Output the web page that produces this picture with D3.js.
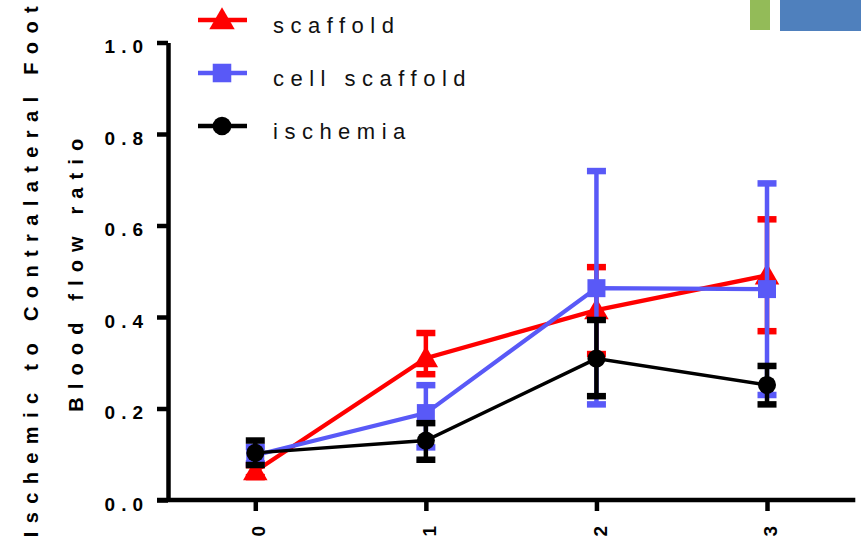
<!DOCTYPE html>
<html>
<head>
<meta charset="utf-8">
<script src="https://cdn.jsdelivr.net/npm/d3@7"></script>
<style>
  html, body { margin: 0; padding: 0; background: #fff; }
  svg { display: block; font-family: "Liberation Sans", Arial, Helvetica, sans-serif; }
</style>
</head>
<body>
<svg id="chart" width="861" height="543"></svg>
<script>
// Time points (x axis)
const timePoints = [0, 1, 2, 3];
const yTicks = [0, 0.2, 0.4, 0.6, 0.8, 1.0];

// Blood flow ratio: mean with lower / upper error bar ends
const scaffoldMean = [0.063, 0.31, 0.415, 0.491];
const scaffoldLow  = [0.05, 0.275, 0.319, 0.369];
const scaffoldHigh = [0.076, 0.365, 0.509, 0.6135];

const cellScaffoldMean = [0.098, 0.19, 0.463, 0.461];
const cellScaffoldLow  = [0.08, 0.115, 0.209, 0.2295];
const cellScaffoldHigh = [0.116, 0.251, 0.719, 0.692];

const ischemiaMean = [0.103, 0.13, 0.309, 0.2515];
const ischemiaLow  = [0.0765, 0.088, 0.227, 0.209];
const ischemiaHigh = [0.13, 0.168, 0.3935, 0.293];

const seriesNames = ["scaffold", "cell scaffold", "ischemia"];
const seriesColors = ["#ff0000", "#5959f7", "#000000"];
const seriesSymbols = [d3.symbolTriangle, d3.symbolSquare, d3.symbolCircle];

const series = [
  { name: seriesNames[0], mean: scaffoldMean, low: scaffoldLow, high: scaffoldHigh },
  { name: seriesNames[1], mean: cellScaffoldMean, low: cellScaffoldLow, high: cellScaffoldHigh },
  { name: seriesNames[2], mean: ischemiaMean, low: ischemiaLow, high: ischemiaHigh }
].map((s, i) => ({ ...s, color: seriesColors[i], symbol: seriesSymbols[i] }));

const svg = d3.select("#chart");
const axisX0 = 168;       // y-axis position
const plotBottom = 500;
const plotTop = 42.5;
const tickLen = 11;

const x = d3.scaleLinear().domain([-0.5, 3.5]).range([170, 852.3]);
const y = d3.scaleLinear().domain([0, 1]).range([plotBottom, plotTop]);

// Decorative blocks in the top-right corner
svg.append("rect").attr("x", 750).attr("y", 0).attr("width", 20).attr("height", 30).attr("fill", "#93bb58");
svg.append("rect").attr("x", 780).attr("y", 0).attr("width", 81).attr("height", 31).attr("fill", "#4f80bd");

// Y axis
const yAxis = svg.append("g").attr("transform", `translate(${axisX0},0)`)
  .call(d3.axisLeft(y).tickValues(yTicks).tickSize(tickLen).tickSizeOuter(0).tickFormat(d3.format(".1f")));
yAxis.select(".domain").attr("stroke", "#000").attr("stroke-width", 4.5);
yAxis.selectAll(".tick line").attr("stroke", "#000").attr("stroke-width", 4.5);
yAxis.selectAll(".tick text")
  .attr("x", -19).attr("dy", "0.55em")
  .attr("fill", "#000").attr("font-size", 19).attr("font-weight", "bold")
  .attr("font-family", "'Liberation Sans', Arial, sans-serif")
  .style("letter-spacing", "6px");

// X axis
const xAxis = svg.append("g").attr("transform", `translate(0,${plotBottom})`)
  .call(d3.axisBottom(x).tickValues(timePoints).tickSize(tickLen).tickSizeOuter(0).tickFormat(d3.format("d")));
xAxis.select(".domain").attr("d", `M${axisX0 - tickLen},0H${x.range()[1] + 3}`)
  .attr("stroke", "#000").attr("stroke-width", 4.5);
xAxis.selectAll(".tick line").attr("stroke", "#000").attr("stroke-width", 4.5);
xAxis.selectAll(".tick text")
  .attr("transform", "rotate(-90)")
  .attr("x", -26).attr("y", 3).attr("dy", "0.35em")
  .attr("text-anchor", "end")
  .attr("fill", "#000").attr("font-size", 19).attr("font-weight", "bold")
  .attr("font-family", "'Liberation Sans', Arial, sans-serif");

// Y axis titles
const midY = (plotTop + plotBottom) / 2;
svg.append("text")
  .attr("transform", `translate(38,${midY + 0.5}) rotate(-90)`)
  .attr("text-anchor", "middle")
  .attr("font-size", 20).attr("font-weight", "bold")
  .attr("textLength", 531).attr("lengthAdjust", "spacing")
  .text("Ischemic to Contralateral Foot");
svg.append("text")
  .attr("transform", `translate(83,${midY + 4}) rotate(-90)`)
  .attr("text-anchor", "middle")
  .attr("font-size", 20).attr("font-weight", "bold")
  .attr("textLength", 273).attr("lengthAdjust", "spacing")
  .text("Blood flow ratio");

// Data series
const line = d3.line().x((d, i) => x(timePoints[i])).y(d => y(d));
const capW = 19;
const symSize = [260, 324, 255];

series.forEach((s, si) => {
  const g = svg.append("g").attr("class", "series");
  g.append("path").datum(s.mean)
    .attr("d", line).attr("fill", "none")
    .attr("stroke", s.color).attr("stroke-width", si === 2 ? 3.5 : 4.2);

  const eb = g.selectAll(".eb").data(timePoints).join("g").attr("class", "eb");
  eb.append("line")
    .attr("x1", d => x(d)).attr("x2", d => x(d))
    .attr("y1", (d, i) => y(s.low[i])).attr("y2", (d, i) => y(s.high[i]))
    .attr("stroke", s.color).attr("stroke-width", 4.5);
  ["low", "high"].forEach(k => {
    eb.append("line")
      .attr("x1", d => x(d) - capW / 2).attr("x2", d => x(d) + capW / 2)
      .attr("y1", (d, i) => y(s[k][i])).attr("y2", (d, i) => y(s[k][i]))
      .attr("stroke", s.color).attr("stroke-width", 6.5);
  });

  g.selectAll(".pt").data(s.mean).join("path").attr("class", "pt")
    .attr("transform", (d, i) => `translate(${x(timePoints[i])},${y(d) + (si === 0 ? 2 : 0)})`)
    .attr("d", d3.symbol().type(s.symbol).size(symSize[si]))
    .attr("fill", s.color);
});

// Legend
const legendRows = [20, 73, 126];
const legend = svg.append("g");
series.forEach((s, i) => {
  const row = legend.append("g").attr("transform", `translate(0,${legendRows[i]})`);
  row.append("line").attr("x1", 198).attr("x2", 247).attr("y1", 0).attr("y2", 0)
    .attr("stroke", s.color).attr("stroke-width", 4.5);
  row.append("path").attr("transform", `translate(222,${i === 0 ? 2 : 0})`)
    .attr("d", d3.symbol().type(s.symbol).size(symSize[i] + 20))
    .attr("fill", s.color);
  row.append("text").attr("x", 273).attr("y", 13)
    .attr("font-size", 22).attr("fill", "#111")
    .style("letter-spacing", "6.5px")
    .text(s.name);
});
</script>
</body>
</html>
